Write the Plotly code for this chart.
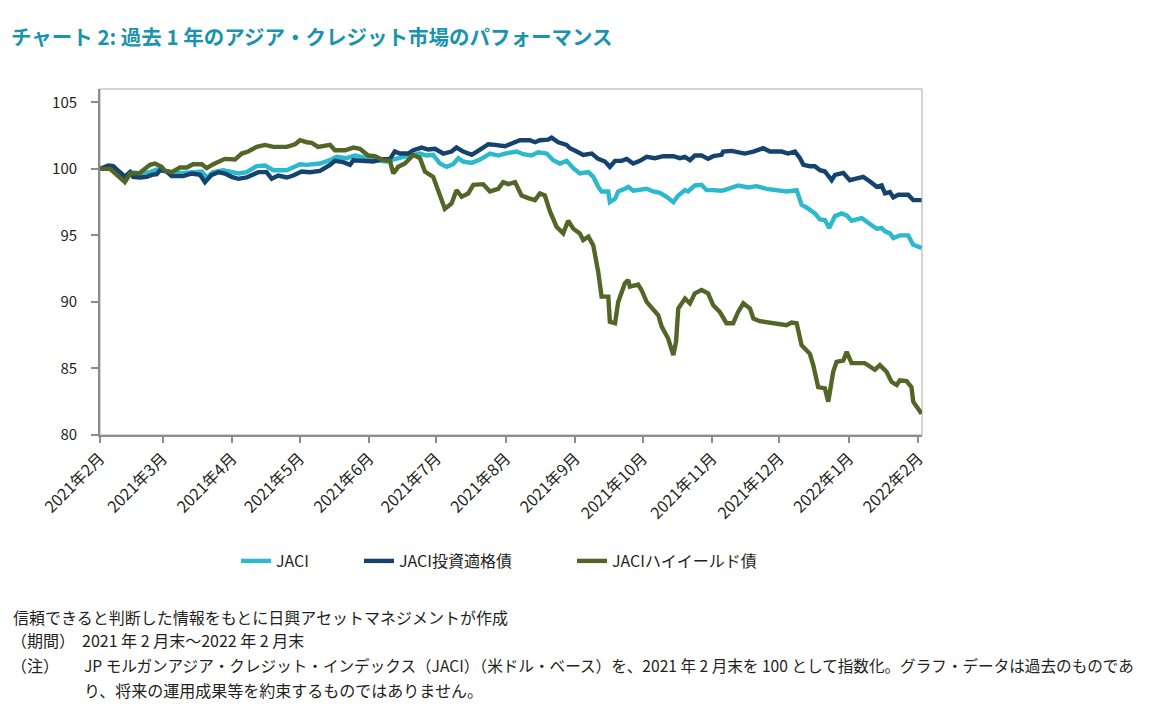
import pandas as pd
import plotly.graph_objects as go

START = pd.Timestamp("2021-02-26")

# days elapsed since 2021-02-26, and index values (2021-02 end = 100)
jaci_days = [0, 4.5, 8.9, 11.1, 13.4, 17.8, 22.3, 25.3, 29.7, 32.7, 37.1, 41.6, 45.4, 47.6, 50.5, 55.0,
             58.0, 61.7, 65.4, 69.9, 73.6, 77.3, 83.3, 89.2, 92.2, 98.1, 102.6, 105.5, 110.0, 113.7,
             116.7, 121.9, 127.8, 131.5, 135.2, 139.7, 142.7, 145.7, 148.6, 151.6, 154.6, 157.5, 159.8,
             162.0, 165.8, 169.5, 173.9, 177.6, 180.6, 185.8, 188.8, 192.5, 195.4, 199.2, 202.1, 205.1,
             208.1, 211.1, 214.0, 217.8, 220.0, 222.2, 223.7, 226.7, 227.4, 229.7, 231.1, 234.1, 235.6,
             237.8, 240.8, 243.8, 246.7, 249.7, 252.7, 255.7, 257.9, 260.9, 262.3, 265.3, 268.3, 270.5,
             273.5, 277.2, 280.2, 284.6, 289.1, 292.8, 297.3, 301.8, 306.2, 310.7, 312.9, 315.1, 318.8,
             321.1, 323.3, 325.2, 327.8, 330.7, 333.0, 335.2, 339.7, 343.4, 346.4, 348.6, 350.1, 352.3,
             353.8, 356.7, 360.4, 362.7, 366.4]
jaci_vals = [100.0, 100.05, 99.75, 99.4, 99.75, 99.65, 99.75, 99.95, 99.85, 99.7, 99.7, 99.75, 99.8, 99.35,
             99.75, 99.9, 99.8, 99.65, 99.75, 100.2, 100.25, 99.9, 99.9, 100.35, 100.3, 100.4, 100.65,
             100.9, 100.8, 101.0, 100.9, 100.65, 100.55, 100.75, 100.9, 101.05, 101.15, 101.0, 101.05,
             100.4, 100.15, 100.35, 100.8, 100.55, 100.45, 100.7, 101.15, 101.0, 101.15, 101.3, 101.1,
             101.0, 101.25, 101.15, 100.65, 100.4, 100.6, 100.05, 99.65, 99.75, 99.4, 98.65, 98.3, 98.3,
             97.5, 97.75, 98.3, 98.5, 98.65, 98.35, 98.4, 98.5, 98.3, 98.2, 97.9, 97.5, 98.0, 98.4, 98.3,
             98.75, 98.8, 98.4, 98.4, 98.35, 98.5, 98.75, 98.6, 98.7, 98.5, 98.4, 98.3, 98.4, 97.3, 97.1,
             96.65, 96.2, 96.15, 95.55, 96.45, 96.65, 96.5, 96.1, 96.3, 95.85, 95.5, 95.55, 95.3, 95.15,
             94.8, 95.0, 95.0, 94.3, 94.05]

ig_days = [0, 3.7, 5.9, 8.9, 11.1, 13.4, 14.8, 17.8, 20.8, 23.1, 25.3, 26.8, 29.7, 32.0, 37.1, 40.9, 44.6,
           46.8, 49.8, 52.8, 55.7, 58.7, 61.7, 65.4, 70.6, 74.3, 76.6, 79.5, 83.3, 86.2, 89.9, 93.6, 98.1,
           102.6, 104.8, 108.5, 111.5, 113.0, 115.9, 121.9, 124.9, 129.3, 131.5, 133.8, 137.5, 139.7,
           143.5, 146.4, 149.4, 153.1, 156.8, 159.0, 162.0, 165.8, 169.5, 173.2, 176.1, 180.6, 183.6,
           187.3, 191.7, 194.0, 196.2, 199.9, 201.4, 204.4, 208.1, 209.6, 212.6, 215.5, 219.3, 222.2,
           225.2, 227.4, 229.7, 232.6, 234.9, 237.8, 240.8, 243.8, 247.5, 251.2, 255.7, 258.6, 260.9,
           263.1, 265.3, 268.3, 271.2, 273.5, 277.2, 277.9, 281.7, 285.4, 287.6, 291.4, 295.8, 298.8,
           304.0, 306.9, 309.9, 312.2, 313.7, 316.6, 318.8, 321.1, 323.3, 326.3, 327.8, 331.5, 334.4,
           336.7, 340.4, 343.4, 346.4, 348.6, 350.1, 352.3, 353.8, 356.0, 360.4, 362.7, 366.4]
ig_vals = [100.0, 100.25, 100.2, 99.75, 99.4, 99.75, 99.4, 99.35, 99.4, 99.55, 99.6, 99.9, 99.8, 99.45,
           99.45, 99.65, 99.55, 99.0, 99.55, 99.75, 99.65, 99.4, 99.25, 99.35, 99.75, 99.75, 99.25, 99.5,
           99.35, 99.5, 99.8, 99.75, 99.85, 100.3, 100.6, 100.5, 100.3, 100.65, 100.6, 100.55, 100.7,
           100.75, 101.3, 101.15, 101.15, 101.4, 101.6, 101.45, 101.5, 101.15, 101.3, 101.6, 101.3,
           101.05, 101.45, 101.85, 101.8, 101.7, 101.9, 102.15, 102.15, 102.0, 102.15, 102.2, 102.35,
           102.0, 101.8, 101.55, 101.3, 101.05, 101.15, 100.75, 100.55, 100.15, 100.6, 100.6, 100.75,
           100.4, 100.6, 100.9, 100.8, 100.95, 100.95, 100.8, 100.9, 100.65, 101.0, 101.0, 100.75,
           100.95, 101.05, 101.3, 101.35, 101.25, 101.15, 101.3, 101.55, 101.3, 101.3, 101.15, 101.3,
           100.8, 100.3, 100.2, 100.2, 99.9, 99.8, 99.15, 99.55, 99.7, 99.15, 99.25, 99.4, 99.05, 98.65,
           98.75, 98.15, 98.25, 97.85, 98.05, 98.05, 97.65, 97.65]

hy_days = [0, 4.5, 11.1, 13.4, 17.8, 22.3, 24.5, 27.5, 29.0, 32.0, 35.7, 38.7, 41.5, 45.4, 47.6, 50.5,
           55.7, 60.2, 63.2, 66.1, 69.9, 73.6, 77.3, 83.3, 87.0, 89.2, 92.2, 94.4, 97.3, 102.6, 104.8,
           109.3, 113.0, 115.9, 119.6, 122.6, 126.3, 129.3, 130.8, 133.0, 136.0, 139.7, 142.7, 144.9,
           148.6, 150.9, 153.8, 156.8, 159.0, 161.3, 164.2, 166.5, 170.9, 173.9, 177.6, 179.8, 182.1,
           185.1, 188.0, 191.0, 194.0, 196.2, 198.4, 200.7, 203.6, 206.6, 208.8, 211.1, 214.0, 215.5,
           217.8, 220.0, 222.2, 223.7, 226.7, 227.4, 229.7, 231.1, 234.1, 235.6, 236.3, 240.0, 241.5,
           243.8, 246.7, 249.0, 250.5, 253.4, 255.7, 256.9, 257.9, 260.9, 263.1, 265.3, 268.3, 271.2,
           273.5, 276.4, 279.4, 282.4, 284.6, 286.9, 289.9, 291.4, 294.3, 298.8, 303.2, 306.2, 308.4,
           310.7, 312.9, 316.6, 318.1, 320.3, 323.3, 324.8, 327.0, 328.5, 331.5, 333.0, 335.2, 341.1,
           345.6, 347.8, 350.8, 353.0, 355.3, 356.7, 359.7, 361.9, 362.7, 364.9, 366.4]
hy_vals = [100.0, 100.0, 99.0, 99.65, 99.7, 100.3, 100.4, 100.15, 99.85, 99.75, 100.1, 100.1, 100.35,
           100.35, 100.05, 100.35, 100.75, 100.7, 101.15, 101.3, 101.65, 101.8, 101.65, 101.65, 101.85,
           102.15, 102.0, 101.95, 101.65, 101.8, 101.4, 101.4, 101.6, 101.5, 101.0, 100.95, 100.65, 100.6,
           99.65, 100.15, 100.4, 101.05, 100.8, 99.8, 99.4, 98.3, 97.0, 97.4, 98.4, 97.9, 98.15, 98.8,
           98.85, 98.3, 98.5, 99.0, 98.85, 99.0, 98.0, 97.8, 97.65, 98.15, 98.0, 96.8, 95.65, 95.15, 96.1,
           95.5, 95.15, 94.65, 94.9, 94.25, 92.25, 90.4, 90.4, 88.5, 88.4, 90.0, 91.4, 91.65, 91.15, 91.3,
           90.9, 90.0, 89.4, 89.0, 88.15, 87.25, 86.0, 87.0, 89.5, 90.25, 89.9, 90.65, 90.9, 90.65, 89.75,
           89.25, 88.4, 88.4, 89.25, 89.9, 89.5, 88.75, 88.55, 88.45, 88.4, 88.25, 88.45, 88.4, 86.75,
           86.1, 85.25, 83.6, 83.5, 82.5, 84.75, 85.5, 85.6, 86.25, 85.4, 85.4, 84.9, 85.25, 84.75, 84.0,
           83.75, 84.1, 84.05, 83.6, 82.5, 81.9, 81.6]

series_names = ["JACI", "JACI投資適格債", "JACIハイイールド債"]
series_colors = ["#2cb8cd", "#15436e", "#536628"]

tick_dates = ["2021-02-26", "2021-03-26", "2021-04-26", "2021-05-26", "2021-06-26", "2021-07-26",
              "2021-08-26", "2021-09-26", "2021-10-26", "2021-11-26", "2021-12-26", "2022-01-26",
              "2022-02-26"]
tick_labels = ["2021年2月", "2021年3月", "2021年4月", "2021年5月", "2021年6月", "2021年7月", "2021年8月",
               "2021年9月", "2021年10月", "2021年11月", "2021年12月", "2022年1月", "2022年2月"]

y_ticks = [80, 85, 90, 95, 100, 105]

title_text = "チャート 2: 過去 1 年のアジア・クレジット市場のパフォーマンス"
note_source = "信頼できると判断した情報をもとに日興アセットマネジメントが作成"
note_period_label = "（期間）"
note_period = "2021 年 2 月末～2022 年 2 月末"
note_label = "（注）"
note_line1 = "JP モルガンアジア・クレジット・インデックス（JACI）（米ドル・ベース）を、2021 年 2 月末を 100 として指数化。グラフ・データは過去のものであ"
note_line2 = "り、将来の運用成果等を約束するものではありません。"


def to_dates(days):
    return START + pd.to_timedelta(days, unit="D")


FONT = "Noto Sans CJK JP"
TXT = "#231f20"

# page has an 8px body margin: plot area (screen 100..922 x 89..435) -> figure coords minus 8
fig = go.Figure()
legend_ids = ["legend", "legend2", "legend3"]
for name, color, days, vals, lg in zip(series_names, series_colors,
                                       [jaci_days, ig_days, hy_days],
                                       [jaci_vals, ig_vals, hy_vals], legend_ids):
    fig.add_trace(go.Scatter(x=to_dates(days), y=vals, mode="lines", name=name, legend=lg,
                             line=dict(color=color, width=4.4)))


def px_x(px):
    return (px - 100) / 822


def px_y(py):
    return (435 - py) / 346


leg_common = dict(orientation="h", yanchor="middle", y=px_y(561), xanchor="left",
                  font=dict(size=16, family=FONT, color=TXT), bgcolor="rgba(0,0,0,0)",
                  borderwidth=0)

fig.update_layout(
    width=1165, height=719,
    margin=dict(l=92, r=251, t=81, b=292),
    paper_bgcolor="white", plot_bgcolor="white",
    font=dict(family=FONT, color=TXT, size=13),
    showlegend=True,
    legend=dict(x=px_x(236), **leg_common),
    legend2=dict(x=px_x(359), **leg_common),
    legend3=dict(x=px_x(572), **leg_common),
    shapes=[dict(type="rect", xref="paper", yref="paper", x0=0, x1=1, y0=0, y1=1,
                 line=dict(color="#c6c6c6", width=1.5), layer="below")],
)

fig.update_xaxes(
    type="date",
    range=[START, START + pd.Timedelta(days=366.6)],
    tickmode="array", tickvals=pd.to_datetime(tick_dates), ticktext=tick_labels,
    tickangle=-45, ticks="outside", ticklen=6, tickwidth=1.5, tickcolor="#8c8c8c",
    showline=True, linecolor="#8c8c8c", linewidth=1.8,
    showgrid=False, zeroline=False,
    tickfont=dict(size=16, family=FONT, color=TXT),
)
fig.update_yaxes(
    range=[80, 106], tickmode="array", tickvals=y_ticks,
    ticks="outside", ticklen=7, tickwidth=1.5, tickcolor="#8c8c8c",
    showline=True, linecolor="#8c8c8c", linewidth=1.8,
    showgrid=False, zeroline=False, ticklabelstandoff=11,
    tickfont=dict(size=15, family=FONT, color=TXT),
)

annotations = [
    dict(text="<b>" + title_text + "</b>", x=px_x(9), y=px_y(36),
         font=dict(size=20.5, color="#1a93ae", family=FONT)),
    dict(text=note_source, x=px_x(11), y=px_y(617), font=dict(size=16, color=TXT, family=FONT)),
    dict(text=note_period_label, x=px_x(9), y=px_y(640), font=dict(size=16, color=TXT, family=FONT)),
    dict(text=note_period, x=px_x(80), y=px_y(640), font=dict(size=16, color=TXT, family=FONT)),
    dict(text=note_label, x=px_x(9), y=px_y(665), font=dict(size=16, color=TXT, family=FONT)),
    dict(text=note_line1, x=px_x(82), y=px_y(665), font=dict(size=15.6, color=TXT, family=FONT)),
    dict(text=note_line2, x=px_x(82), y=px_y(690), font=dict(size=16, color=TXT, family=FONT)),
]
for a in annotations:
    a.update(xref="paper", yref="paper", xanchor="left", yanchor="middle", showarrow=False)
fig.update_layout(annotations=annotations)

fig.write_html("out.html")
